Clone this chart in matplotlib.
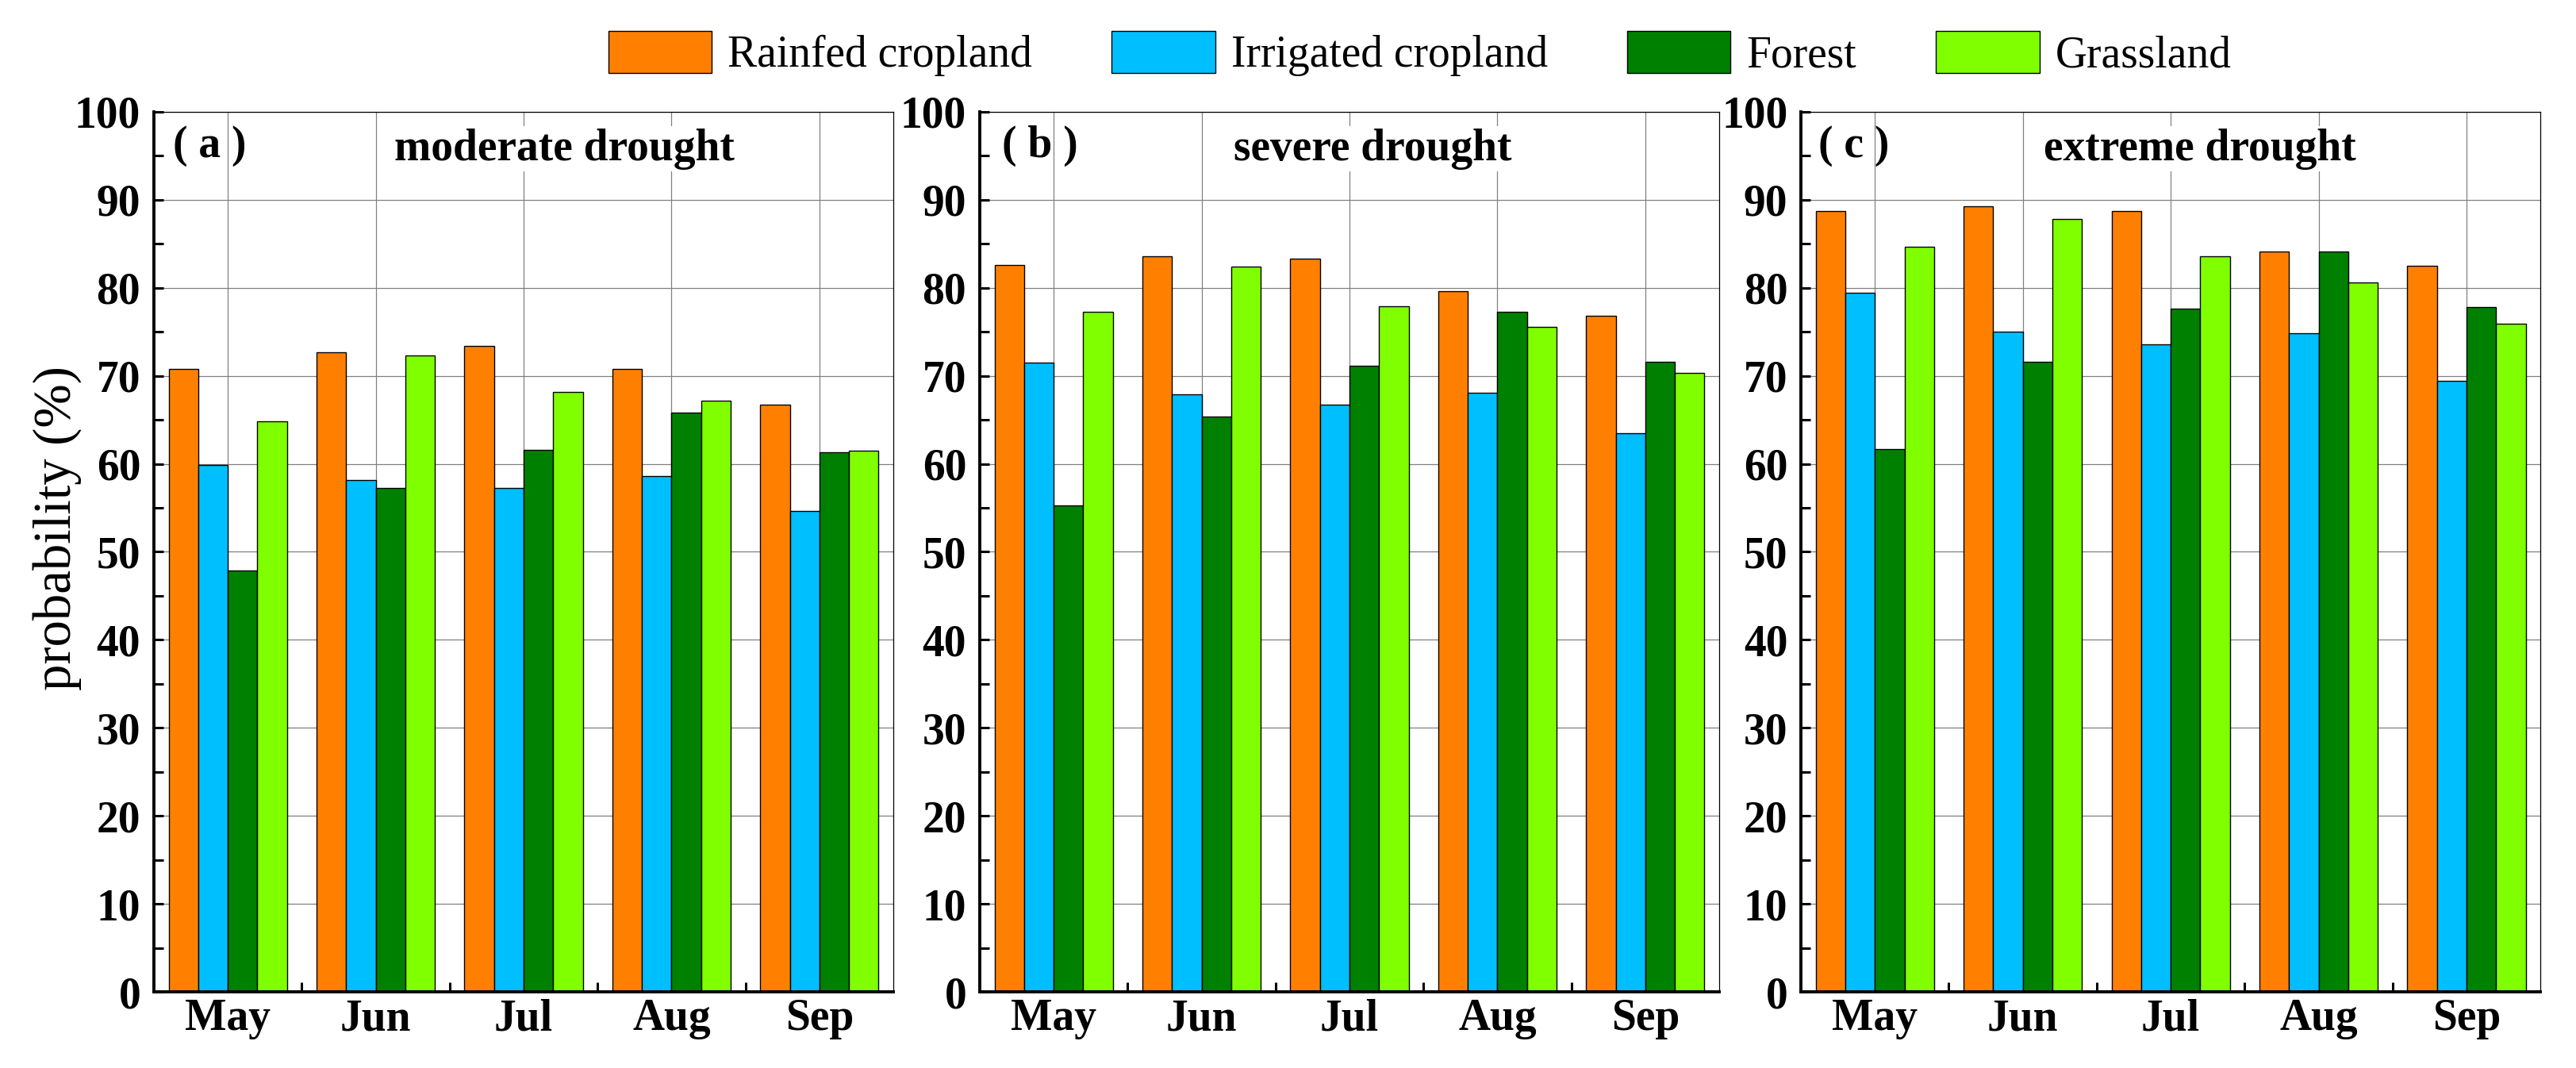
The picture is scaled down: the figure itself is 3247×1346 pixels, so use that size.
'''
Drought probability by land cover type, May-Sep, three drought levels.
'''

import numpy as np
from matplotlib import pyplot as plt
from matplotlib.patches import Patch
from matplotlib.ticker import MultipleLocator, FixedLocator


#(0) Data (probability, %):
months    = ['May', 'Jun', 'Jul', 'Aug', 'Sep']
landcover = ['Rainfed cropland', 'Irrigated cropland', 'Forest', 'Grassland']

moderate_rainfed   = [70.8, 72.7, 73.4, 70.8, 66.7]
moderate_irrigated = [59.9, 58.2, 57.3, 58.6, 54.6]
moderate_forest    = [47.9, 57.3, 61.6, 65.8, 61.3]
moderate_grass     = [64.8, 72.3, 68.2, 67.2, 61.5]

severe_rainfed     = [82.6, 83.6, 83.3, 79.6, 76.8]
severe_irrigated   = [71.5, 67.9, 66.7, 68.1, 63.5]
severe_forest      = [55.3, 65.4, 71.1, 77.3, 71.6]
severe_grass       = [77.3, 82.4, 77.9, 75.6, 70.3]

extreme_rainfed    = [88.7, 89.3, 88.7, 84.1, 82.5]
extreme_irrigated  = [79.4, 75.0, 73.6, 74.8, 69.4]
extreme_forest     = [61.7, 71.6, 77.6, 84.1, 77.8]
extreme_grass      = [84.7, 87.8, 83.6, 80.6, 75.9]

panels = [
	('( a )', 'moderate drought', [moderate_rainfed, moderate_irrigated, moderate_forest, moderate_grass]),
	('( b )', 'severe drought',   [severe_rainfed, severe_irrigated, severe_forest, severe_grass]),
	('( c )', 'extreme drought',  [extreme_rainfed, extreme_irrigated, extreme_forest, extreme_grass]),
]


#(1) Plot:
plt.close('all')
plt.rcParams['font.family'] = ['Liberation Serif', 'DejaVu Sans']
colors   = ['#FF8000', '#00BFFF', '#008000', '#80FF00']
fs       = 40
width    = 0.2
x        = np.arange(len(months))

fig      = plt.figure(figsize=(32.48, 13.46), dpi=100)
lefts    = [0.0597, 0.3802, 0.6989]
title_x  = [0.555, 0.531, 0.539]
label_x  = [0.026, 0.030, 0.024]

for k,(tag, title, series) in enumerate(panels):
	ax   = fig.add_axes([lefts[k], 0.0713, 0.287, 0.824])
	ax.set_axisbelow(True)
	for i,vals in enumerate(series):
		ax.bar(x + (i-1.5)*width, vals, width, color=colors[i], edgecolor='k', lw=1.0, zorder=2)

	ax.set_xlim(-0.5, 4.5)
	ax.set_ylim(0, 100)
	ax.xaxis.set_major_locator(FixedLocator(x))
	ax.xaxis.set_minor_locator(FixedLocator(x[:-1] + 0.5))
	ax.yaxis.set_major_locator(MultipleLocator(10))
	ax.yaxis.set_minor_locator(MultipleLocator(5))
	ax.set_xticklabels(months, fontsize=fs, fontweight='bold')
	for t in ax.get_yticklabels():
		t.set_fontsize(fs); t.set_fontweight('bold')
	ax.tick_params(which='both', direction='in', length=8.5, width=2.2, top=False, right=False)
	ax.tick_params(axis='y', pad=12)
	ax.tick_params(axis='x', pad=6)
	ax.grid(True, which='major', color='#808080', lw=0.9)

	for s in ['left', 'bottom']:
		ax.spines[s].set_linewidth(2.8)
	for s in ['top', 'right']:
		ax.spines[s].set_linewidth(0.9)

	ax.text(label_x[k], 0.961, tag, transform=ax.transAxes, fontsize=fs, fontweight='bold', ha='left', va='center')
	ax.text(title_x[k], 0.958, title, transform=ax.transAxes, fontsize=fs, fontweight='bold', ha='center', va='center',
	        bbox=dict(facecolor='w', edgecolor='none', pad=2), zorder=5)

	if k == 0:
		ax.set_ylabel('probability (%)', fontsize=48)
		ax.yaxis.set_label_coords(-0.097, 0.527)

#legend:
handles = [Patch(facecolor=c, edgecolor='k', lw=1.0) for c in colors]
fig.legend(handles, landcover, ncol=4, loc='center', bbox_to_anchor=(0.551, 0.95), frameon=False,
           fontsize=fs, handlelength=2.35, handleheight=1.1, handletextpad=0.36, columnspacing=1.8)

plt.savefig('out.png', dpi=100)
